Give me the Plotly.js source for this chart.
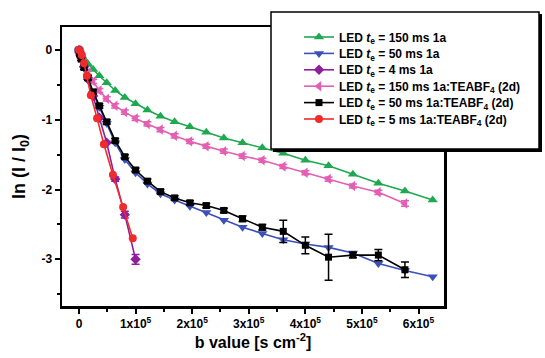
<!DOCTYPE html>
<html>
<head>
<meta charset="utf-8">
<script src="https://cdn.plot.ly/plotly-3.0.1.min.js"></script>
<style>html,body{margin:0;padding:0;background:#fff;}#chart{width:545px;height:358px;}</style>
</head>
<body>
<div id="chart"></div>
<script>
// b values [s cm^-2]
const bGreen = [0,1000,4000,9000,16000,25000,36000,49000,64000,81000,100000,121000,144000,169000,196000,225000,256000,289000,324000,361000,400000,441000,484000,529000,576000,625000];
const yGreen = [0,-0.02,-0.06,-0.13,-0.20,-0.28,-0.37,-0.47,-0.58,-0.68,-0.77,-0.86,-0.95,-1.03,-1.10,-1.18,-1.26,-1.33,-1.40,-1.48,-1.58,-1.66,-1.78,-1.91,-2.02,-2.15];

const bBlue = [0,1000,4000,9000,16000,25000,36000,49000,64000,81000,100000,121000,144000,169000,196000,225000,256000,289000,324000,361000,400000,441000,484000,529000,576000,625000];
const yBlue = [0,-0.04,-0.13,-0.26,-0.42,-0.62,-0.82,-1.05,-1.33,-1.57,-1.76,-1.92,-2.06,-2.15,-2.24,-2.33,-2.44,-2.54,-2.63,-2.72,-2.78,-2.83,-2.91,-3.06,-3.16,-3.25];

const bPurple = [0,1000,4000,9000,16000,25000,36000,49000,64000,81000,100000];
const yPurple = [0,-0.03,-0.11,-0.24,-0.42,-0.66,-0.97,-1.33,-1.85,-2.36,-3.00];
const ePurple = [0,0,0,0,0,0,0,0,0.03,0.05,0.07];

const bPink = [0,1000,4000,9000,16000,25000,36000,49000,64000,81000,100000,121000,144000,169000,196000,225000,256000,289000,324000,361000,400000,441000,484000,529000,576000];
const yPink = [0,-0.02,-0.08,-0.18,-0.32,-0.45,-0.58,-0.70,-0.80,-0.89,-0.98,-1.06,-1.14,-1.23,-1.31,-1.38,-1.45,-1.52,-1.58,-1.67,-1.76,-1.85,-1.95,-2.04,-2.20];
const ePink = [0,0.02,0.02,0.02,0.03,0.03,0.03,0.03,0.03,0.03,0.03,0.03,0.03,0.03,0.03,0.03,0.03,0.03,0.03,0.03,0.03,0.03,0.03,0.03,0.04];

const bBlack = [0,1000,4000,9000,16000,25000,36000,49000,64000,81000,100000,121000,144000,169000,196000,225000,256000,289000,324000,361000,400000,441000,484000,529000,576000];
const yBlack = [0,-0.05,-0.13,-0.25,-0.40,-0.60,-0.80,-1.03,-1.30,-1.53,-1.72,-1.88,-2.03,-2.12,-2.19,-2.23,-2.30,-2.42,-2.54,-2.60,-2.80,-2.97,-2.94,-2.94,-3.15];
const eBlack = [0,0.02,0.02,0.03,0.03,0.03,0.03,0.03,0.03,0.03,0.03,0.03,0.03,0.03,0.03,0.03,0.03,0.04,0.04,0.16,0.12,0.33,0.04,0.08,0.11];

const bRed = [0,5000,9000,14000,21000,32000,44000,60000,78000,95000];
const yRed = [0,-0.07,-0.19,-0.37,-0.65,-0.98,-1.35,-1.79,-2.25,-2.70];

const xTickVals = [0,100000,200000,300000,400000,500000,600000];
const xTickText = ['0','1x10<sup>5</sup>','2x10<sup>5</sup>','3x10<sup>5</sup>','4x10<sup>5</sup>','5x10<sup>5</sup>','6x10<sup>5</sup>'];
const yTickVals = [0,-1,-2,-3];
const yTickText = ['0','-1','-2','-3'];

const names = [
  'LED <i>t</i><sub>e</sub> = 150 ms 1a',
  'LED <i>t</i><sub>e</sub> = 50 ms 1a',
  'LED <i>t</i><sub>e</sub> = 4 ms 1a',
  'LED <i>t</i><sub>e</sub> = 150 ms 1a:TEABF<sub>4</sub> (2d)',
  'LED <i>t</i><sub>e</sub> = 50 ms 1a:TEABF<sub>4</sub> (2d)',
  'LED <i>t</i><sub>e</sub> = 5 ms 1a:TEABF<sub>4</sub> (2d)'
];

const FONT = 'Liberation Sans, Arial, sans-serif';

function tr(x, y, name, color, symbol, size, err) {
  const t = {
    x: x, y: y, name: name, type: 'scatter', mode: 'lines+markers',
    line: {color: color, width: 1.6},
    marker: {color: color, symbol: symbol, size: size, line: {width: 0}}
  };
  if (err) {
    t.error_y = {type: 'data', array: err, visible: true, color: color, thickness: 1.5, width: 4};
  }
  return t;
}

const data = [
  tr(bGreen, yGreen, names[0], '#1ea84f', 'triangle-up', 9),
  tr(bBlue, yBlue, names[1], '#3b50b8', 'triangle-down', 9),
  tr(bPurple, yPurple, names[2], '#8e1f9c', 'diamond', 8, ePurple),
  tr(bPink, yPink, names[3], '#e25fb3', 'triangle-left', 9, ePink),
  tr(bBlack, yBlack, names[4], '#000000', 'square', 7, eBlack),
  tr(bRed, yRed, names[5], '#ef2b2b', 'circle', 8)
];

const layout = {
  width: 545, height: 358,
  margin: {l: 62, r: 101, t: 27, b: 52},
  paper_bgcolor: '#ffffff', plot_bgcolor: '#ffffff',
  font: {family: FONT, color: '#000', size: 12},
  showlegend: true,
  xaxis: {
    range: [-30000, 645000],
    tickmode: 'array', tickvals: xTickVals, ticktext: xTickText,
    ticks: 'outside', ticklen: 5, tickwidth: 2, tickcolor: '#000',
    minor: {tickmode: 'linear', tick0: 50000, dtick: 100000, ticks: 'outside', ticklen: 3, tickwidth: 2, tickcolor: '#000', showgrid: false},
    showline: true, linewidth: 2.5, linecolor: '#000', mirror: true,
    showgrid: false, zeroline: false,
    tickfont: {family: FONT, size: 12, color: '#000', weight: 'bold'},
    title: {text: 'b value [s cm<sup>-2</sup>]', font: {family: FONT, size: 16, color: '#000', weight: 'bold'}, standoff: 7}
  },
  yaxis: {
    range: [-3.67, 0.33],
    tickmode: 'array', tickvals: yTickVals, ticktext: yTickText,
    ticks: 'outside', ticklen: 5, tickwidth: 2, tickcolor: '#000',
    minor: {tickmode: 'linear', tick0: -0.5, dtick: 1, ticks: 'outside', ticklen: 3, tickwidth: 2, tickcolor: '#000', showgrid: false},
    showline: true, linewidth: 2.5, linecolor: '#000', mirror: true,
    showgrid: false, zeroline: false,
    tickfont: {family: FONT, size: 12, color: '#000', weight: 'bold'},
    title: {text: 'ln (I / I<sub>0</sub>)', font: {family: FONT, size: 18, color: '#000', weight: 'bold'}, standoff: 11}
  },
  shapes: [
    {type: 'rect', xref: 'paper', yref: 'paper', layer: 'above',
     x0: (273 - 62) / 382, x1: (542 - 62) / 382, y0: (306 - 152) / 279, y1: (306 - 14) / 279,
     line: {width: 0}, fillcolor: '#000'},
    {type: 'rect', xref: 'paper', yref: 'paper', layer: 'above',
     x0: (271 - 62) / 382, x1: (539 - 62) / 382, y0: (306 - 149) / 279, y1: (306 - 12) / 279,
     line: {width: 1.5, color: '#000'}, fillcolor: '#fff'}
  ],
  legend: {
    x: (299 - 62) / 382, y: (306 - 24) / 279, xanchor: 'left', yanchor: 'top',
    bgcolor: 'rgba(0,0,0,0)', borderwidth: 0,
    font: {family: FONT, size: 12, color: '#000', weight: 'bold'},
    tracegroupgap: 0, itemwidth: 30
  }
};

Plotly.newPlot('chart', data, layout, {displayModeBar: false, staticPlot: true}).then(function (gd) {
  // tighten legend row spacing to match the reference (rows ~16.4 px apart)
  const rowTop = 37, rowStep = 16.4;
  const base = gd.getBoundingClientRect();
  const items = gd.querySelectorAll('.legend .traces');
  items.forEach(function (el, i) {
    const ln = el.querySelector('.legendlines path') || el.querySelector('.legendpoints path');
    if (!ln) return;
    const r = ln.getBoundingClientRect();
    const cy = (r.top + r.bottom) / 2 - base.top;
    const dy = (rowTop + i * rowStep) - cy;
    const tf = el.getAttribute('transform') || 'translate(0,0)';
    const m = /translate\(\s*([-\d.eE]+)[ ,]+([-\d.eE]+)\s*\)/.exec(tf);
    const tx = m ? parseFloat(m[1]) : 0;
    const ty = m ? parseFloat(m[2]) : 0;
    el.setAttribute('transform', 'translate(' + tx + ',' + (ty + dy) + ')');
  });
});
</script>
</body>
</html>
